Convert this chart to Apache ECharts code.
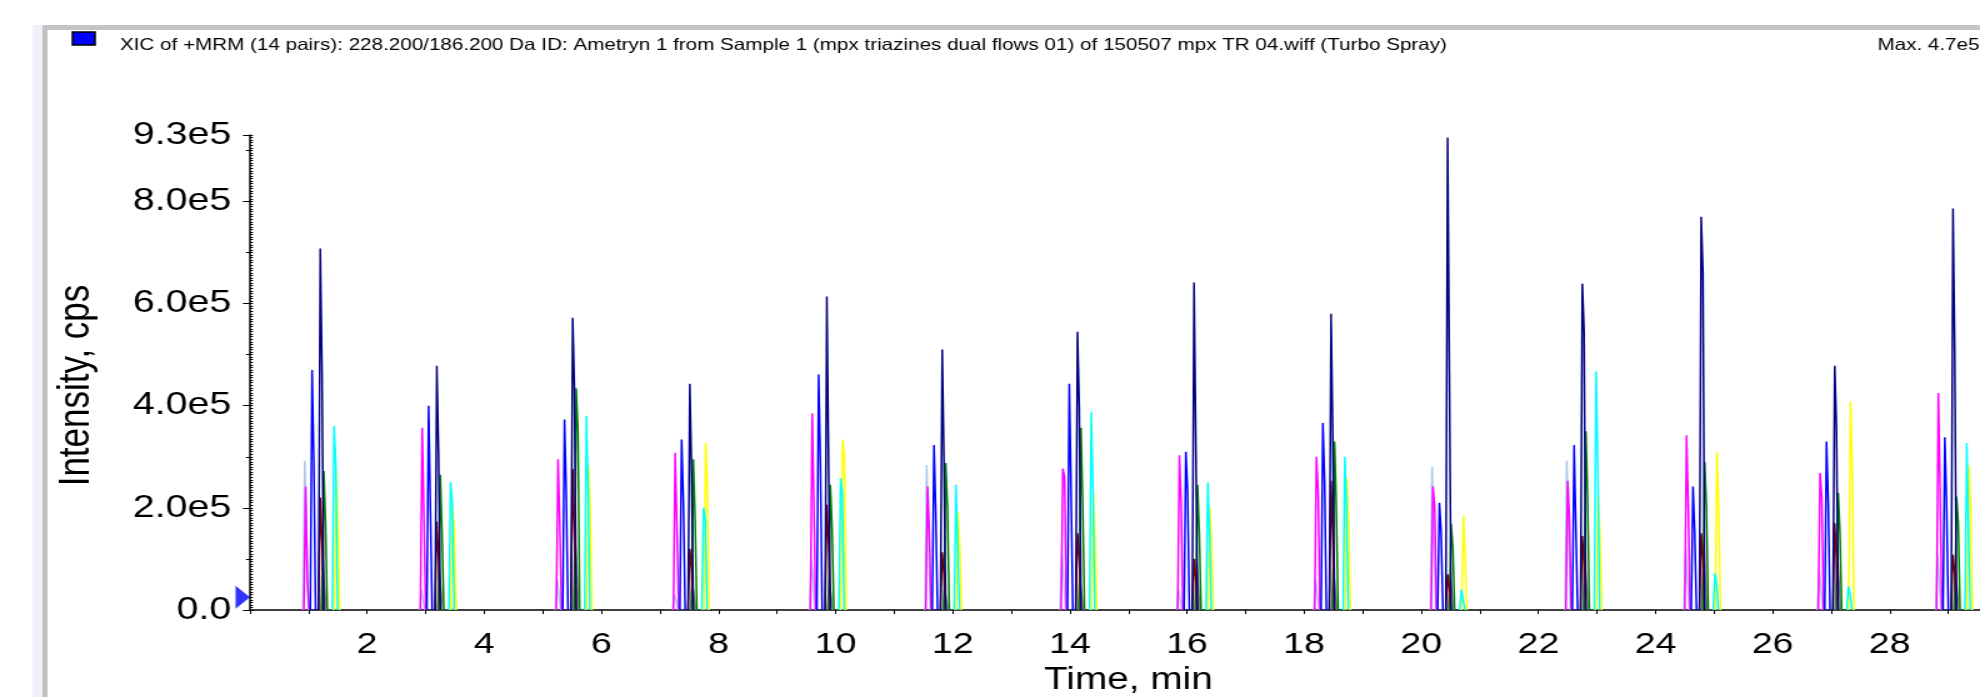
<!DOCTYPE html>
<html>
<head>
<meta charset="utf-8">
<script src="https://cdn.jsdelivr.net/npm/echarts@6/dist/echarts.min.js"></script>
<style>
html, body { margin: 0; padding: 0; background: #fff; overflow: hidden; }
#wrap { width: 1980px; height: 697px; overflow: hidden; }
/* the source screenshot is stretched sideways, so the chart is drawn narrow and widened */
#chart { width: 1584px; height: 697px; transform: scaleX(1.25); transform-origin: 0 0; }
</style>
</head>
<body>
<div id="wrap"><div id="chart"></div></div>
<script>
var titleText = 'XIC of +MRM (14 pairs): 228.200/186.200 Da ID: Ametryn 1 from Sample 1 (mpx triazines dual flows 01) of 150507 mpx TR 04.wiff (Turbo Spray)';
var maxText = 'Max. 4.7e5 cps.';

// apex time of the main (navy) peak in each injection, min
var injectTimes = [1.20, 3.19, 5.51, 7.51, 9.85, 11.82, 14.13, 16.12, 18.46, 20.45, 22.75, 24.78, 27.06, 29.08];

// transitions: name, colour, retention shift from the navy peak (min)
var traceNames  = ['lavender', 'magenta', 'yellow', 'cyan', 'gray', 'green', 'darkred', 'blue', 'navy'];
var traceColors = ['#a6caf0', '#ff00ff', '#ffff00', '#00ffff', '#808080', '#008000', '#800000', '#0000ff', '#000080'];
var traceShift  = [-0.265, -0.25, 0.27, 0.235, 0.04, 0.06, 0.0, -0.14, 0.0];

// apex and next-sample heights (cps) per injection
var lavenderApex     = [292000, 40000, 60000, 30000, 100000, 284000, 110000, 40000, 60000, 280000, 292000, 120000, 80000, 110000];
var lavenderShoulder = [150000, 20000, 30000, 20000, 60000, 150000, 60000, 20000, 30000, 150000, 160000, 60000, 40000, 60000];
var magentaApex      = [242000, 357000, 295000, 308000, 385000, 242000, 277000, 303000, 300000, 242000, 253000, 342000, 268000, 425000];
var magentaShoulder  = [55000, 180000, 166000, 158000, 200000, 150000, 260000, 210000, 230000, 200000, 180000, 200000, 220000, 230000];
var yellowApex       = [274000, 205000, 284000, 327000, 334000, 192000, 230000, 200000, 260000, 184000, 223000, 310000, 408000, 284000];
var yellowShoulder   = [187000, 150000, 200000, 240000, 300000, 120000, 150000, 130000, 170000, 100000, 150000, 190000, 280000, 200000];
var cyanApex         = [360000, 250000, 380000, 200000, 258000, 245000, 388000, 250000, 300000, 40000, 467000, 72000, 46000, 327000];
var cyanShoulder     = [287000, 210000, 226000, 180000, 230000, 120000, 230000, 150000, 200000, 20000, 284000, 50000, 30000, 150000];
var grayApex         = [100000, 84000, 140000, 50000, 60000, 40000, 60000, 100000, 80000, 70000, 100000, 130000, 120000, 80000];
var grayShoulder     = [50000, 40000, 80000, 30000, 30000, 20000, 30000, 50000, 40000, 40000, 50000, 60000, 60000, 40000];
var greenApex        = [272000, 265000, 434000, 295000, 245000, 288000, 357000, 245000, 330000, 169000, 350000, 290000, 229000, 222000];
var greenShoulder    = [170000, 150000, 350000, 180000, 160000, 200000, 200000, 150000, 200000, 120000, 223000, 200000, 150000, 170000];
var darkredApex      = [220000, 173000, 276000, 120000, 206000, 113000, 150000, 100000, 253000, 70000, 145000, 150000, 170000, 108000];
var darkredShoulder  = [130000, 100000, 150000, 80000, 130000, 70000, 100000, 60000, 140000, 40000, 90000, 100000, 100000, 70000];
var blueApex         = [470000, 400000, 373000, 334000, 461000, 323000, 443000, 310000, 366000, 210000, 323000, 242000, 330000, 338000];
var blueShoulder     = [287000, 200000, 230000, 213000, 288000, 190000, 242000, 230000, 250000, 150000, 160000, 150000, 210000, 210000];
var navyApex         = [708000, 478000, 572000, 443000, 614000, 510000, 545000, 641000, 580000, 925000, 639000, 770000, 478000, 786000];
var navyShoulder     = [463000, 303000, 430000, 268000, 280000, 288000, 395000, 326000, 334000, 467000, 545000, 660000, 358000, 498000];

var traceApex = [lavenderApex, magentaApex, yellowApex, cyanApex, grayApex, greenApex, darkredApex, blueApex, navyApex];
var traceShoulder = [lavenderShoulder, magentaShoulder, yellowShoulder, cyanShoulder, grayShoulder, greenShoulder, darkredShoulder, blueShoulder, navyShoulder];

// blue marker at the left of the intensity axis
var baselineMark = [0, 25000];

var yTicks = [0, 200000, 400000, 600000, 800000, 930000];

var sampleStep = 0.03; // min between MRM cycles

function buildTrace(k) {
	var pts = [];
	injectTimes.forEach(function (t0, i) {
		var t = t0 + traceShift[k];
		pts.push([t - sampleStep, 0]);
		pts.push([t, traceApex[k][i]]);
		pts.push([t + sampleStep, traceShoulder[k][i]]);
		pts.push([t + 2 * sampleStep, 0]);
		pts.push([t + 2 * sampleStep, '-']);
	});
	return pts;
}

var font = 'Liberation Sans, Arial, sans-serif';
var series = traceNames.map(function (name, k) {
	return {
		name: name,
		type: 'line',
		data: buildTrace(k),
		showSymbol: false,
		connectNulls: false,
		lineStyle: { color: traceColors[k], width: 1.5 },
		itemStyle: { color: traceColors[k] },
		animation: false
	};
});
series.push({
	type: 'scatter',
	data: [baselineMark],
	symbol: 'triangle',
	symbolSize: [23, 11.5],
	symbolRotate: -90,
	symbolOffset: [-5.8, 0],
	itemStyle: { color: '#0000ff' },
	clip: false,
	animation: false
});

var myChart = echarts.init(document.getElementById('chart'));
var option = {
	backgroundColor: '#fff',
	animation: false,
	grid: { left: 200, top: 135, width: 1405.5, height: 475, containLabel: false, outerBoundsMode: 'none' },
	xAxis: {
		type: 'value',
		min: 0,
		max: 30,
		interval: 1,
		name: 'Time, min',
		nameLocation: 'middle',
		nameGap: 55,
		nameTextStyle: { fontSize: 31, color: '#000', fontFamily: font },
		axisLine: { lineStyle: { color: '#000', width: 1.5 } },
		axisTick: { length: 4, lineStyle: { color: '#000', width: 1 } },
		axisLabel: {
			fontSize: 30, color: '#000', fontFamily: font, margin: 20,
			formatter: function (v) { return (v > 0 && v % 2 === 0) ? String(v) : ''; }
		},
		splitLine: { show: false }
	},
	yAxis: [{
		type: 'value',
		position: 'left',
		min: 0,
		max: 930000,
		interval: 200000,
		name: 'Intensity, cps',
		nameLocation: 'middle',
		nameRotate: 90,
		nameGap: 121,
		nameTextStyle: { fontSize: 35, color: '#000', fontFamily: font, padding: [0, 26, 0, 0] },
		axisLine: { show: true, lineStyle: { color: '#000', width: 1.5 } },
		axisTick: { length: 5.6, lineStyle: { color: '#000', width: 1 } },
		axisLabel: {
			fontSize: 31.5, color: '#000', fontFamily: font, margin: 15,
			formatter: function (v) {
				if (yTicks.indexOf(v) < 0) return '';
				return v === 0 ? '0.0' : (v / 100000).toFixed(1) + 'e5';
			}
		},
		splitLine: { show: false }
	}, {
		type: 'value', position: 'left', offset: 0, min: 0, max: 930000, interval: 100000,
		axisLine: { show: false },
		axisTick: { show: true, length: 3.2, lineStyle: { color: '#000', width: 1 } },
		axisLabel: { show: false },
		splitLine: { show: false }
	}, {
		type: 'value', position: 'left', offset: 0, min: 0, max: 930000, interval: 5000,
		axisLine: { show: false },
		axisTick: { show: true, inside: true, length: 2.4, lineStyle: { color: '#000', width: 1 } },
		axisLabel: { show: false },
		splitLine: { show: false }
	}],
	graphic: [
		{ type: 'rect', shape: { x: 26, y: 25, width: 8, height: 700 }, style: { fill: '#eef2f8' }, silent: true },
		{ type: 'rect', shape: { x: 34, y: 25, width: 4, height: 700 }, style: { fill: '#c0c0c0' }, silent: true },
		{ type: 'rect', shape: { x: 34, y: 25, width: 1600, height: 5 }, style: { fill: '#c4c4c4' }, silent: true },
		{ type: 'rect', shape: { x: 58, y: 32, width: 18, height: 13 }, style: { fill: '#0000ff', stroke: '#000', lineWidth: 1.5 }, silent: true },
		{ type: 'text', x: 96, y: 45, style: { text: titleText, font: '16.5px ' + font, fill: '#000', textVerticalAlign: 'middle' }, silent: true },
		{ type: 'text', x: 1502, y: 45, style: { text: maxText, font: '16.5px ' + font, fill: '#000', textVerticalAlign: 'middle' }, silent: true }
	],
	series: series
};
myChart.setOption(option);
</script>
</body>
</html>
